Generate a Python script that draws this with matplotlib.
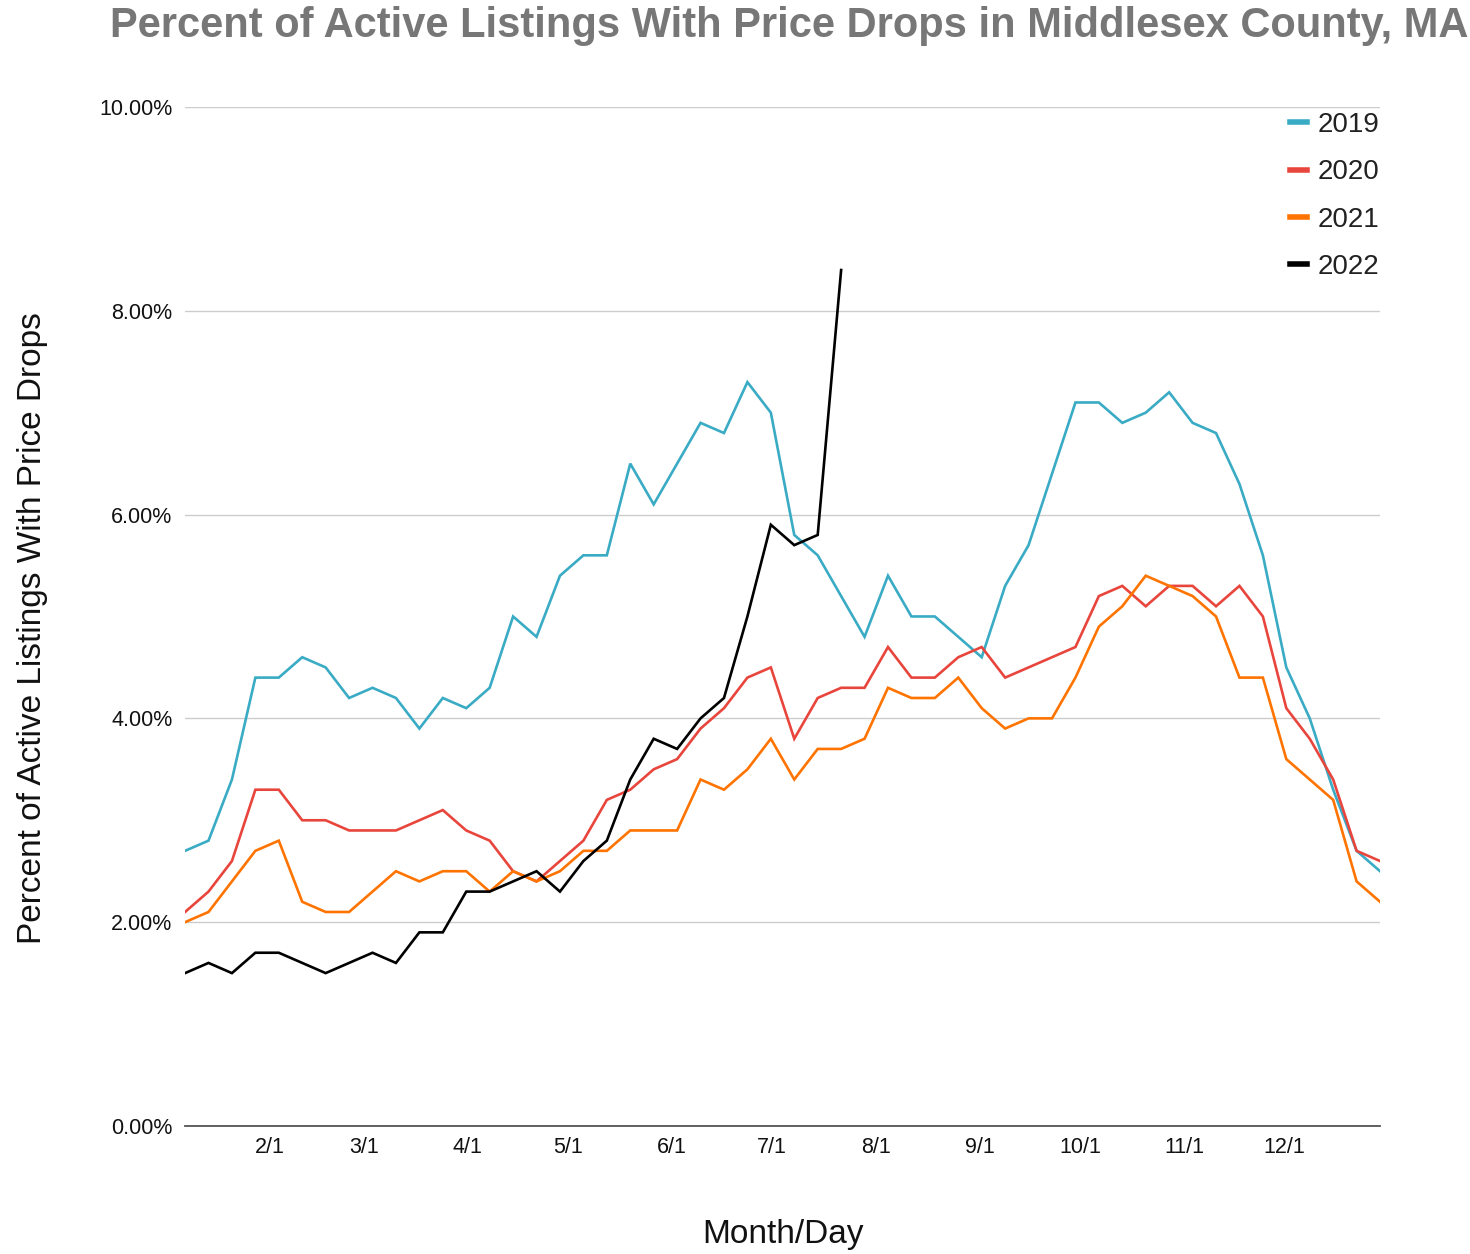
import matplotlib

matplotlib.use("Agg")

import matplotlib.pyplot as plt
import numpy as np
from matplotlib.ticker import FuncFormatter

plt.rcParams["font.family"] = ["Liberation Sans", "DejaVu Sans"]

# weekly readings, percent of active listings with a price drop
pct_2019 = [2.7, 2.8, 3.4, 4.4, 4.4, 4.6, 4.5, 4.2, 4.3, 4.2, 3.9, 4.2, 4.1,
            4.3, 5.0, 4.8, 5.4, 5.6, 5.6, 6.5, 6.1, 6.5, 6.9, 6.8, 7.3, 7.0,
            5.8, 5.6, 5.2, 4.8, 5.4, 5.0, 5.0, 4.8, 4.6, 5.3, 5.7, 6.4, 7.1,
            7.1, 6.9, 7.0, 7.2, 6.9, 6.8, 6.3, 5.6, 4.5, 4.0, 3.3, 2.7, 2.5]
pct_2020 = [2.1, 2.3, 2.6, 3.3, 3.3, 3.0, 3.0, 2.9, 2.9, 2.9, 3.0, 3.1, 2.9,
            2.8, 2.5, 2.4, 2.6, 2.8, 3.2, 3.3, 3.5, 3.6, 3.9, 4.1, 4.4, 4.5,
            3.8, 4.2, 4.3, 4.3, 4.7, 4.4, 4.4, 4.6, 4.7, 4.4, 4.5, 4.6, 4.7,
            5.2, 5.3, 5.1, 5.3, 5.3, 5.1, 5.3, 5.0, 4.1, 3.8, 3.4, 2.7, 2.6]
pct_2021 = [2.0, 2.1, 2.4, 2.7, 2.8, 2.2, 2.1, 2.1, 2.3, 2.5, 2.4, 2.5, 2.5,
            2.3, 2.5, 2.4, 2.5, 2.7, 2.7, 2.9, 2.9, 2.9, 3.4, 3.3, 3.5, 3.8,
            3.4, 3.7, 3.7, 3.8, 4.3, 4.2, 4.2, 4.4, 4.1, 3.9, 4.0, 4.0, 4.4,
            4.9, 5.1, 5.4, 5.3, 5.2, 5.0, 4.4, 4.4, 3.6, 3.4, 3.2, 2.4, 2.2]
pct_2022 = [1.5, 1.6, 1.5, 1.7, 1.7, 1.6, 1.5, 1.6, 1.7, 1.6, 1.9, 1.9, 2.3,
            2.3, 2.4, 2.5, 2.3, 2.6, 2.8, 3.4, 3.8, 3.7, 4.0, 4.2, 5.0, 5.9,
            5.7, 5.8, 8.4]

month_labels = ["2/1", "3/1", "4/1", "5/1", "6/1", "7/1", "8/1", "9/1",
                "10/1", "11/1", "12/1"]
month_start_day = [31, 59, 90, 120, 151, 181, 212, 243, 273, 304, 334]

series = [
    ("2019", pct_2019, "#3aabc4"),
    ("2020", pct_2020, "#e8453c"),
    ("2021", pct_2021, "#ff7400"),
    ("2022", pct_2022, "#000000"),
]

# day of year for each weekly reading (first week ends around Jan 6)
week_day = 5.6 + 7 * np.arange(len(pct_2019))

fig = plt.figure(figsize=(14.7, 12.54), dpi=100)
ax = fig.add_axes([0.1259, 0.1021, 0.8129, 0.8126])

for label, values, color in series:
    ax.plot(week_day[:len(values)], values, color=color, linewidth=1.9,
            label=label, solid_joinstyle="miter")

ax.set_xlim(week_day[0], week_day[-1])
ax.set_ylim(0, 10)
ax.set_yticks([0, 2, 4, 6, 8, 10])
ax.yaxis.set_major_formatter(FuncFormatter(lambda v, _: f"{v:.2f}%"))
ax.set_xticks(month_start_day)
ax.set_xticklabels(month_labels)
ax.tick_params(axis="both", length=0, labelsize=15.5, colors="#111111")
ax.tick_params(axis="y", pad=9)
ax.tick_params(axis="x", pad=8)

ax.grid(axis="y", color="#cccccc", linewidth=1.0)
ax.set_axisbelow(True)
for side in ("left", "right", "top"):
    ax.spines[side].set_visible(False)
ax.spines["bottom"].set_color("#555555")
ax.spines["bottom"].set_linewidth(1.3)

fig.text(33 / 1470, 1 - 628 / 1254, "Percent of Active Listings With Price Drops",
         rotation=90, ha="center", va="center", fontsize=24, color="#111111")
fig.text(783 / 1470, 1 - 1235 / 1254, "Month/Day", ha="center", va="center",
         fontsize=24, color="#111111")
fig.text(110 / 1470, 1 - 37 / 1254,
         "Percent of Active Listings With Price Drops in Middlesex County, MA",
         ha="left", va="baseline", fontsize=30, fontweight="bold",
         color="#777777")

leg = ax.legend(loc="upper left", bbox_to_anchor=(1290 / 1470, 1 - 112 / 1254),
                bbox_transform=fig.transFigure, frameon=False, fontsize=20,
                handlelength=0.6, handletextpad=0.4, labelspacing=0.77,
                borderaxespad=0, borderpad=0)
for line in leg.get_lines():
    line.set_linewidth(4)
for text in leg.get_texts():
    text.set_color("#222222")

fig.savefig("out.png", dpi=100)
